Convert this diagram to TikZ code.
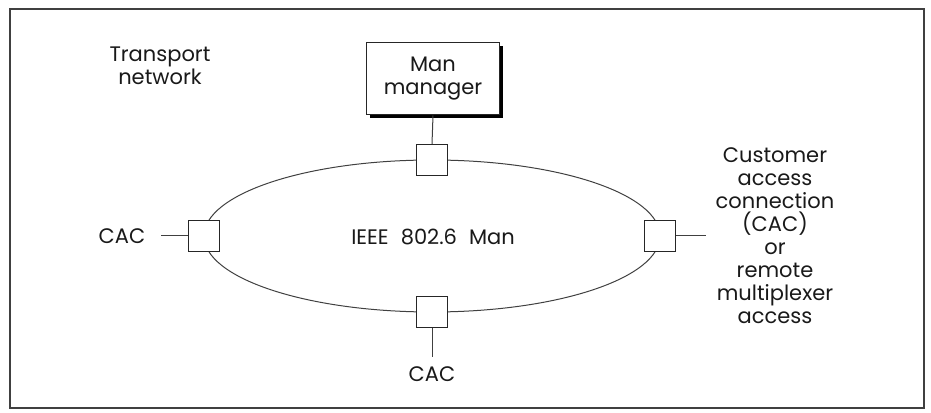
\documentclass[tikz,border=0pt]{standalone}
\usepackage{fontspec}
\setmainfont{Poppins}
\usetikzlibrary{positioning, shadows}

\begin{document}
\begin{tikzpicture}[
    x=1pt, y=1pt,
    lbl/.style={font=\fontsize{21}{23}\selectfont, align=center, text=black!90},
    port/.style={draw=black!85, line width=1.4pt, minimum size=31pt, inner sep=0pt, fill=white},
    link/.style={draw=black!75, line width=1pt},
]
    \useasboundingbox (0,0) rectangle (931,412);
    \draw[line width=1.2pt, black!75] (10,4) rectangle (924,403);

    \node[lbl] (tn) at (160,346) {Transport\\network};
    \draw[link] (432,176) ellipse [x radius=228, y radius=76];
    \node[lbl, draw=black!85, line width=1pt, fill=white, minimum width=133pt, minimum height=72pt,
          drop shadow={shadow xshift=3pt, shadow yshift=-3pt, fill=black, opacity=1}] (mgr) at (433,333) {Man\\manager};
    \node[lbl] (ieee) at (433,175) {IEEE\hspace{12pt}802.6\hspace{12pt}Man};

    % stations on the ring
    \node[port] (ptop) at (432,252) {};
    \node[port] (pleft) at (204,176) {};
    \node[port] (pright) at (660,176) {};
    \node[port] (pbot) at (432,100) {};

    \node[lbl] (cacl) at (122,176) {CAC};
    \node[lbl] (cacb) at (432,38) {CAC};
    \node[lbl] (cust) at (775,176) {Customer\\access\\connection\\(CAC)\\or\\remote\\multiplexer\\access};

    \draw[link] (mgr.south) -- (ptop.north);
    \draw[link, shorten >=12pt] (pleft.west) -- (cacl.east);
    \draw[link, shorten >=6pt] (pright.east) -- (cust.west);
    \draw[link, shorten >=6pt] (pbot.south) -- (cacb.north);
\end{tikzpicture}
\end{document}
